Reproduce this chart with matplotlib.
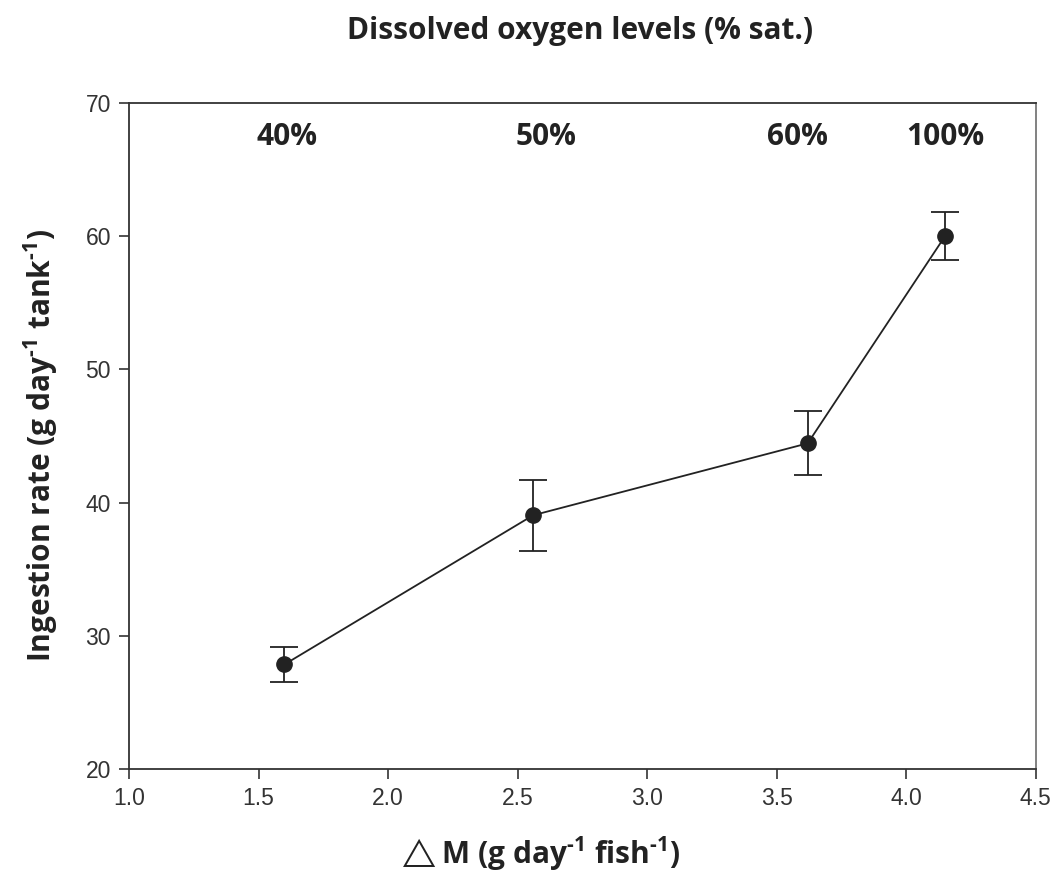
import matplotlib
matplotlib.use("Agg")
import matplotlib.pyplot as plt

# Data
delta_m = [1.60, 2.56, 3.62, 4.15]
ingestion = [27.85, 39.05, 44.45, 60.0]
err = [1.3, 2.65, 2.4, 1.8]
oxygen_labels = ["40%", "50%", "60%", "100%"]
oxygen_x = [1.61, 2.61, 3.58, 4.15]

plt.rcParams["mathtext.fontset"] = "custom"
plt.rcParams["mathtext.rm"] = "Open Sans:bold"
plt.rcParams["mathtext.bf"] = "Open Sans:bold"
plt.rcParams["mathtext.it"] = "Open Sans:bold"
plt.rcParams["mathtext.fallback"] = "stixsans"

bold_fam = ["Open Sans", "DejaVu Sans"]
tick_fam = ["Liberation Sans", "DejaVu Sans"]
FS = 21.5

fig = plt.figure(figsize=(10.59, 8.77), dpi=100)
ax = fig.add_axes([0.1218, 0.1231, 0.978 - 0.1218, 0.8826 - 0.1231])

ax.errorbar(delta_m, ingestion, yerr=err, fmt="o-", color="#222222",
            ecolor="#222222", markersize=11, linewidth=1.3, elinewidth=1.3,
            capsize=10, capthick=1.3)

ax.set_xlim(1.0, 4.5)
ax.set_ylim(20, 70)
ax.set_xticks([1.0, 1.5, 2.0, 2.5, 3.0, 3.5, 4.0, 4.5])
ax.set_yticks([20, 30, 40, 50, 60, 70])
ax.set_xticklabels([f"{v:.1f}" for v in ax.get_xticks()])
ax.tick_params(direction="out", length=7, width=1.2, color="#333333",
               labelsize=16.5, labelcolor="#333333", pad=6)
for lab in ax.get_xticklabels() + ax.get_yticklabels():
    lab.set_family(tick_fam)

for side in ["left", "bottom", "top"]:
    ax.spines[side].set_color("#333333")
    ax.spines[side].set_linewidth(1.3)
ax.spines["right"].set_color("#777777")
ax.spines["right"].set_linewidth(1.3)

for lx, lab in zip(oxygen_x, oxygen_labels):
    ax.text(lx, 67.45, lab, ha="center", va="center", fontsize=FS,
            fontweight="bold", family=bold_fam, color="#222222")

fig.text(0.548, 0.965, "Dissolved oxygen levels (% sat.)", ha="center",
         va="center", fontsize=FS, fontweight="bold", family=bold_fam,
         color="#222222")

ax.set_xlabel(r"$\triangle$M (g day$^{\text{-1}}$ fish$^{\text{-1}}$)", fontsize=FS,
              fontweight="bold", family=bold_fam, color="#222222", va="center")
ax.set_ylabel(r"Ingestion rate (g day$^{\text{-1}}$ tank$^{\text{-1}}$)",
              fontsize=FS, fontweight="bold", family=bold_fam, color="#222222",
              va="center")
ax.xaxis.set_label_coords(0.451, -0.127)
ax.yaxis.set_label_coords(-0.097, 0.486)

fig.savefig("out.png", dpi=100)
